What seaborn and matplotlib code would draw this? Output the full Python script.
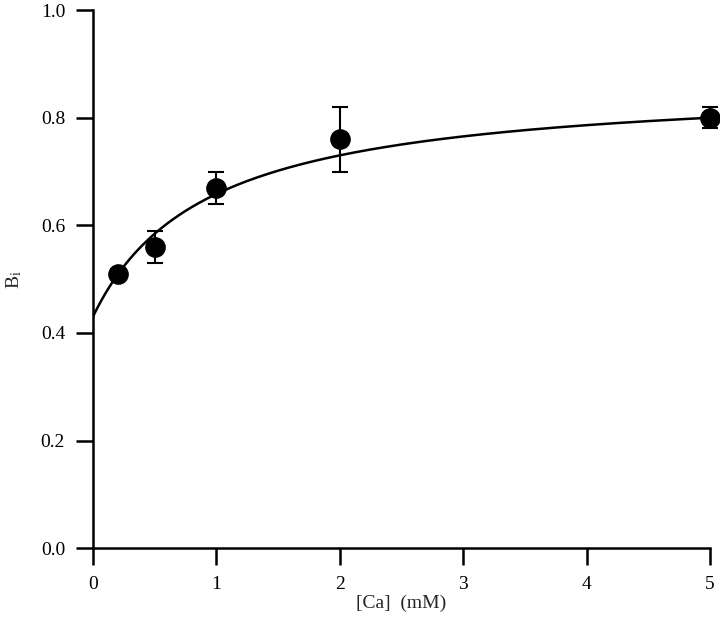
import numpy as np
import matplotlib
matplotlib.use("Agg")
import matplotlib.pyplot as plt
import seaborn as sns
import pandas as pd

# Data
ca_mM = [0.2, 0.5, 1.0, 2.0, 5.0]
bi_mean = [0.51, 0.56, 0.67, 0.76, 0.80]
bi_err = [0.008, 0.03, 0.03, 0.06, 0.02]

# Fitted hyperbolic curve parameters
fit_b0 = 0.43
fit_amp = 0.438
fit_k = 0.92

x_ticks = [0, 1, 2, 3, 4, 5]
y_ticks = [0.0, 0.2, 0.4, 0.6, 0.8, 1.0]

sns.set_theme(style="ticks")
plt.rcParams['font.family'] = ['Liberation Serif', 'DejaVu Serif']
plt.rcParams['mathtext.fontset'] = 'custom'
plt.rcParams['mathtext.rm'] = 'Liberation Serif'
plt.rcParams['mathtext.it'] = 'Liberation Serif:italic'

fig = plt.figure(figsize=(7.2, 6.28), dpi=100)
ax = fig.add_axes([0.129, 0.127, 0.857, 0.857])

xf = np.linspace(0, 5, 300)
fit_df = pd.DataFrame({"x": xf, "y": fit_b0 + fit_amp * xf / (fit_k + xf)})
sns.lineplot(data=fit_df, x="x", y="y", ax=ax, color="black", linewidth=1.8)

ax.errorbar(ca_mM, bi_mean, yerr=bi_err, fmt="none", ecolor="black",
            elinewidth=1.5, capsize=5.5, capthick=1.5, zorder=3, clip_on=False)
df = pd.DataFrame({"x": ca_mM, "y": bi_mean})
sns.scatterplot(data=df, x="x", y="y", ax=ax, color="black", s=190,
                edgecolor="black", zorder=4, clip_on=False)

ax.set_xlim(0, 5)
ax.set_ylim(0, 1.0)
ax.set_xticks(x_ticks)
ax.set_xticklabels([str(t) for t in x_ticks])
ax.set_yticks(y_ticks)
ax.set_yticklabels([f"{t:.1f}" for t in y_ticks])
for s in ["top", "right"]:
    ax.spines[s].set_visible(False)
for s in ["left", "bottom"]:
    ax.spines[s].set_linewidth(1.8)
    ax.spines[s].set_color("black")
ax.tick_params(direction="out", length=12, width=1.8, labelsize=14,
               colors="black", pad=8)
ax.set_xlabel("[Ca]  (mM)", fontsize=14, labelpad=1)
ax.set_ylabel(r"B$_{\rm i}$", fontsize=14, labelpad=12)

fig.savefig("out.png", dpi=100)
